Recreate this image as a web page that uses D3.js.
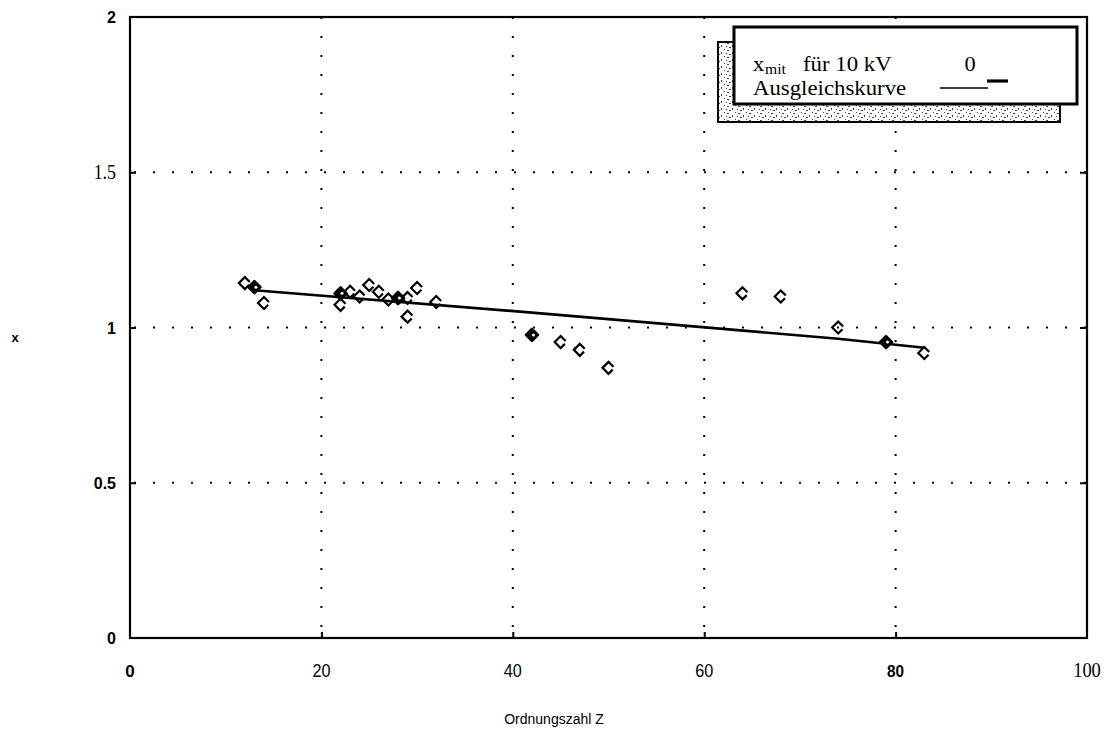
<!DOCTYPE html>
<html>
<head>
<meta charset="utf-8">
<script src="https://cdn.jsdelivr.net/npm/d3@7"></script>
<style>
  html, body { margin: 0; padding: 0; background: #fff; }
  svg { display: block; }
</style>
</head>
<body>
<svg id="chart" width="1113" height="731"></svg>
<script>
// Measured x values against atomic number Z at 10 kV
const zOpen = [12, 14, 22, 23, 24, 25, 26, 27, 29, 29, 30, 32, 45, 47, 50, 64, 68, 74, 83];
const xOpen = [1.143, 1.079, 1.073, 1.115, 1.10, 1.137, 1.115, 1.09, 1.095, 1.035, 1.127, 1.082, 0.953, 0.928, 0.87, 1.11, 1.10, 1.00, 0.918];
// Points drawn heavier (overlapping measurements)
const zBold = [13, 22, 28, 42, 79];
const xBold = [1.13, 1.11, 1.095, 0.976, 0.953];
// Fitted curve (Ausgleichskurve)
const zFit = [13, 42, 74, 83];
const xFit = [1.12, 1.048, 0.964, 0.935];

const xTicks = [0, 20, 40, 60, 80, 100];
const xTickLabels = ["0", "20", "40", "60", "80", "100"];
const yTicks = [0, 0.5, 1, 1.5, 2];
const yTickLabels = ["0", "0.5", "1", "1.5", "2"];
const gridX = [20, 40, 60, 80];
const gridY = [0.5, 1, 1.5];

const svg = d3.select("#chart");
const x = d3.scaleLinear().domain([0, 100]).range([130, 1087]);
const y = d3.scaleLinear().domain([0, 2]).range([638, 17]);

const sans = "'Liberation Sans', Arial, sans-serif";
const serif = "'Liberation Serif', 'Times New Roman', serif";

// dotted grid
const grid = svg.append("g").attr("stroke", "#000").attr("stroke-width", 2)
  .attr("stroke-dasharray", "2,17").attr("fill", "none");
grid.selectAll(".gx").data(gridX).join("line")
  .attr("x1", d => x(d)).attr("x2", d => x(d))
  .attr("y1", y(2)).attr("y2", y(0));
grid.selectAll(".gy").data(gridY).join("line")
  .attr("x1", x(0) + 4).attr("x2", x(100))
  .attr("y1", d => y(d)).attr("y2", d => y(d));

// frame
svg.append("rect").attr("x", x(0)).attr("y", y(2))
  .attr("width", x(100) - x(0)).attr("height", y(0) - y(2))
  .attr("fill", "none").attr("stroke", "#000").attr("stroke-width", 2.2);

// axes with inward ticks
const ax = svg.append("g");
ax.append("g").attr("transform", `translate(0,${y(0)})`)
  .call(d3.axisTop(x).tickValues(gridX).tickSize(6).tickFormat(""))
  .call(g => g.select(".domain").remove())
  .selectAll("line").attr("stroke-width", 2);
ax.append("g").attr("transform", `translate(${x(0)},0)`)
  .call(d3.axisRight(y).tickValues(gridY).tickSize(6).tickFormat(""))
  .call(g => g.select(".domain").remove())
  .selectAll("line").attr("stroke-width", 2);
ax.append("g").attr("transform", `translate(${x(100)},0)`)
  .call(d3.axisLeft(y).tickValues(gridY).tickSize(7).tickFormat(""))
  .call(g => g.select(".domain").remove())
  .selectAll("line").attr("stroke-width", 2);

// tick labels (mixed typefaces)
const xLabelStyle = [
  { f: sans, w: "bold", s: 17 },
  { f: sans, w: "normal", s: 18, sx: 0.9 },
  { f: sans, w: "normal", s: 18, sx: 0.9 },
  { f: sans, w: "normal", s: 18, sx: 0.9 },
  { f: sans, w: "bold", s: 17, sx: 0.9 },
  { f: serif, w: "normal", s: 21, sx: 0.88 }
];
xTicks.forEach((v, i) => {
  const st = xLabelStyle[i];
  svg.append("text")
    .attr("transform", `translate(${x(v)},677) scale(${st.sx || 1},1)`)
    .attr("text-anchor", "middle")
    .attr("font-family", st.f).attr("font-weight", st.w).attr("font-size", st.s)
    .text(xTickLabels[i]);
});
const yLabelStyle = [
  { f: sans, w: "bold", s: 16 },
  { f: sans, w: "bold", s: 16 },
  { f: sans, w: "bold", s: 16 },
  { f: serif, w: "normal", s: 21, sx: 0.85 },
  { f: sans, w: "bold", s: 16 }
];
yTicks.forEach((v, i) => {
  const st = yLabelStyle[i];
  const dy = st.f === serif ? 7 : 6;
  svg.append("text")
    .attr("transform", `translate(116,${y(v) + dy}) scale(${st.sx || 1},1)`)
    .attr("text-anchor", "end")
    .attr("font-family", st.f).attr("font-weight", st.w).attr("font-size", st.s)
    .text(yTickLabels[i]);
});

// axis titles
svg.append("text").attr("x", 554).attr("y", 724).attr("text-anchor", "middle")
  .attr("font-family", sans).attr("font-size", 14).text("Ordnungszahl Z");
svg.append("text").attr("x", 15).attr("y", 342).attr("text-anchor", "middle")
  .attr("font-family", sans).attr("font-weight", "bold").attr("font-size", 13).text("x");

// fitted curve
const line = d3.line().x(d => x(d[0])).y(d => y(d[1]));
svg.append("path").datum(zFit.map((z, i) => [z, xFit[i]]))
  .attr("d", line).attr("fill", "none").attr("stroke", "#000").attr("stroke-width", 2.6);

// markers: open diamonds, broken near the right corner
const diamond = "M0,-6 L6,0 L0,6 L-6,0 Z";
svg.append("g").selectAll("path").data(zOpen.map((z, i) => [z, xOpen[i]])).join("path")
  .attr("d", diamond)
  .attr("transform", d => `translate(${x(d[0])},${y(d[1])})`)
  .attr("fill", "none").attr("stroke", "#000").attr("stroke-width", 2.2)
  .attr("stroke-dasharray", "7,4,24,0");
svg.append("g").selectAll("path").data(zBold.map((z, i) => [z, xBold[i]])).join("path")
  .attr("d", diamond)
  .attr("transform", d => `translate(${x(d[0])},${y(d[1])})`)
  .attr("fill", "#000").attr("stroke", "#000").attr("stroke-width", 2.6)
  .attr("stroke-linejoin", "round");
svg.append("g").selectAll("circle").data(zBold.map((z, i) => [z, xBold[i]])).join("circle")
  .attr("cx", d => x(d[0]) + 1.5).attr("cy", d => y(d[1]))
  .attr("r", 1.5).attr("fill", "#fff");

// legend: stippled shadow box and framed box
const defs = svg.append("defs");
const pat = defs.append("pattern").attr("id", "stipple")
  .attr("width", 11).attr("height", 7).attr("patternUnits", "userSpaceOnUse");
pat.append("rect").attr("width", 11).attr("height", 7).attr("fill", "#fff");
[[1, 1, 2, 1], [6, 3, 1, 2], [3, 5, 2, 1], [9, 0, 1, 1], [0, 4, 1, 1]]
  .forEach(r => pat.append("rect").attr("x", r[0]).attr("y", r[1])
    .attr("width", r[2]).attr("height", r[3]).attr("fill", "#444"));

svg.append("rect").attr("x", 718).attr("y", 42).attr("width", 342).attr("height", 80)
  .attr("fill", "url(#stipple)").attr("stroke", "#000").attr("stroke-width", 2);
svg.append("rect").attr("x", 734).attr("y", 27).attr("width", 343).attr("height", 77)
  .attr("fill", "#fff").attr("stroke", "#000").attr("stroke-width", 3);

const legText = (tx, ty, size, sx, str, anchor) =>
  svg.append("text").attr("transform", `translate(${tx},${ty}) scale(${sx},1)`)
    .attr("text-anchor", anchor || "start")
    .attr("font-family", serif).attr("font-size", size).text(str);
legText(753, 71, 20, 1.12, "x");
legText(765, 74, 14, 1.12, "mit");
legText(803, 71, 20, 1.14, "für 10 kV");
legText(970, 71, 20, 1.12, "0", "middle");
legText(753, 95, 20, 1.14, "Ausgleichskurve");
svg.append("line").attr("x1", 940).attr("x2", 988).attr("y1", 88).attr("y2", 88)
  .attr("stroke", "#000").attr("stroke-width", 1.6);
svg.append("line").attr("x1", 987).attr("x2", 1008).attr("y1", 81).attr("y2", 81)
  .attr("stroke", "#000").attr("stroke-width", 3.2);
</script>
</body>
</html>
